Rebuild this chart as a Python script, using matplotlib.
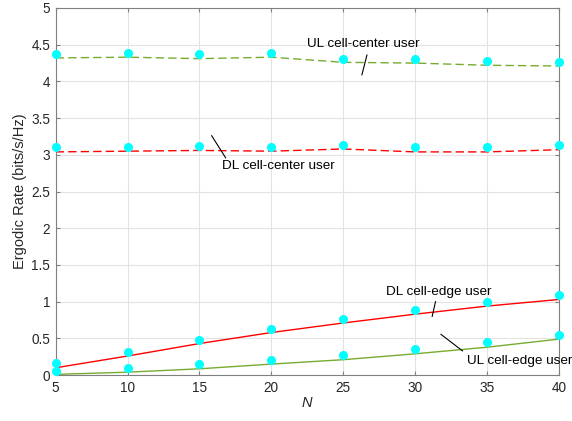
import matplotlib
matplotlib.use("Agg")
import matplotlib.pyplot as plt

N = [5, 10, 15, 20, 25, 30, 35, 40]

ul_center_sim = [4.38, 4.39, 4.38, 4.39, 4.31, 4.30, 4.28, 4.26]
ul_center_ana = [4.32, 4.33, 4.31, 4.33, 4.26, 4.25, 4.22, 4.21]
dl_center_sim = [3.11, 3.11, 3.12, 3.11, 3.14, 3.11, 3.11, 3.13]
dl_center_ana = [3.04, 3.05, 3.06, 3.05, 3.08, 3.04, 3.04, 3.07]
dl_edge_sim = [0.16, 0.31, 0.48, 0.63, 0.77, 0.89, 1.00, 1.09]
dl_edge_ana = [0.10, 0.26, 0.43, 0.58, 0.71, 0.83, 0.94, 1.03]
ul_edge_sim = [0.06, 0.10, 0.15, 0.20, 0.27, 0.36, 0.45, 0.55]
ul_edge_ana = [0.01, 0.04, 0.086, 0.15, 0.21, 0.29, 0.38, 0.49]

plt.rcParams['font.family'] = ['Liberation Sans', 'DejaVu Sans']

fig = plt.figure(figsize=(5.72, 4.21), dpi=100)
ax = fig.add_axes([0.0974, 0.109, 0.8796, 0.872])

green = '#77AC30'
red = '#FF0000'
ax.plot(N, ul_center_ana, '--', color=green, lw=1.0, dashes=(6, 3))
ax.plot(N, dl_center_ana, '--', color=red, lw=1.0, dashes=(6, 3))
ax.plot(N, dl_edge_ana, '-', color=red, lw=1.0)
ax.plot(N, ul_edge_ana, '-', color=green, lw=1.0)
for s in [ul_center_sim, dl_center_sim, dl_edge_sim, ul_edge_sim]:
    ax.plot(N, s, 'o', color='#00FFFF', ms=5.5, mec='#00FFFF', clip_on=False, zorder=5)

ax.set_xlim(5, 40)
ax.set_ylim(0, 5)
ax.set_xticks(N)
ax.set_yticks([0, 0.5, 1, 1.5, 2, 2.5, 3, 3.5, 4, 4.5, 5])
ax.set_yticklabels(['0', '0.5', '1', '1.5', '2', '2.5', '3', '3.5', '4', '4.5', '5'])
ax.grid(True, color='#E3E3E3', lw=0.8)
ax.set_axisbelow(True)
for sp in ax.spines.values():
    sp.set_color('#808080')
    sp.set_linewidth(0.8)
ax.tick_params(direction='in', top=True, right=True, labelcolor='#262626',
               labelsize=9.8, length=3, color='#808080', pad=4)
ax.set_xlabel('N', style='italic', fontsize=10.5, color='#262626', labelpad=1)
ax.set_ylabel('Ergodic Rate (bits/s/Hz)', fontsize=10.5, color='#262626', labelpad=3)

kw = dict(fontsize=9.7, ha='center', va='center', color='black')
ax.text(26.4, 4.51, 'UL cell-center user', **kw)
ax.plot([26.65, 26.3], [4.36, 4.09], color='black', lw=0.8)
ax.text(20.46, 2.85, 'DL cell-center user', **kw)
ax.plot([15.85, 16.82], [3.26, 2.96], color='black', lw=0.8)
ax.text(31.65, 1.13, 'DL cell-edge user', **kw)
ax.plot([31.42, 31.19], [1.0, 0.80], color='black', lw=0.8)
ax.text(37.3, 0.19, 'UL cell-edge user', **kw)
ax.plot([31.8, 33.3], [0.555, 0.33], color='black', lw=0.8)

fig.savefig('out.png', dpi=100)
